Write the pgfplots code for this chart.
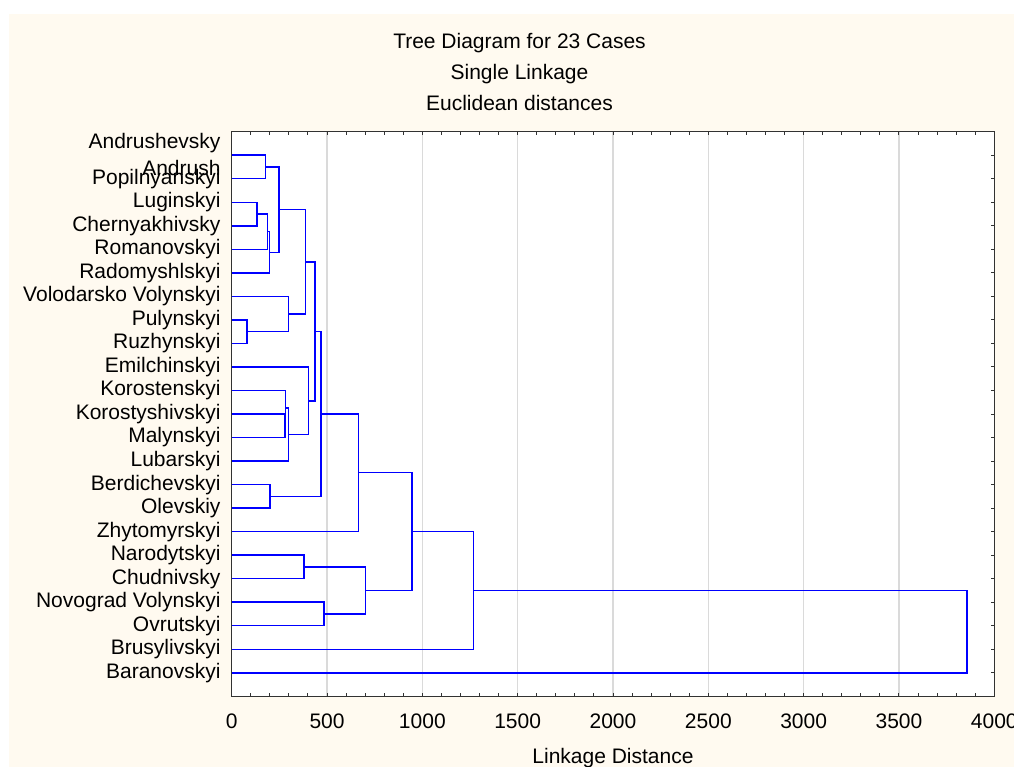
\documentclass[border=0pt]{standalone}
\usepackage{fontspec}
\setmainfont{Liberation Sans}
\usepackage{pgfplots}
\pgfplotsset{compat=1.18}
\definecolor{cream}{RGB}{255,250,240}
\definecolor{gridgray}{RGB}{218,218,218}
\definecolor{axisgray}{RGB}{50,50,50}

\pgfplotsset{dend/.style={color=blue, line width=1.5pt, mark=none}}

\begin{document}
\begin{tikzpicture}[x=1pt,y=1pt]
\path[use as bounding box, fill=white] (0,0) rectangle (1014,767);
\fill[cream] (9,0) rectangle (1014,753);

% title, three lines
\node[anchor=base, inner sep=0pt, font=\fontsize{21}{25}\selectfont] at (519.5,718.5) {Tree Diagram for 23 Cases};
\node[anchor=base, inner sep=0pt, font=\fontsize{21}{25}\selectfont] at (519.5,687.5) {Single Linkage};
\node[anchor=base, inner sep=0pt, font=\fontsize{21}{25}\selectfont] at (519.5,656.5) {Euclidean distances};

\begin{axis}[
  at={(231.7pt,70.7pt)}, anchor=south west,
  width=762.6pt, height=564.6pt, scale only axis,
  axis background/.style={fill=white},
  axis line style={axisgray, line width=1.4pt},
  xmin=0, xmax=4000, ymin=0, ymax=24,
  y dir=reverse,
  xtick={0,500,...,4000},
  minor x tick num=4,
  xmajorgrids,
  grid style={gridgray, line width=1.4pt},
  tick align=inside,
  tick style={axisgray, line width=1pt},
  major tick length=3.5pt, minor tick length=3pt,
  /pgf/number format/assume math mode=true,
  /pgf/number format/1000 sep={},
  tick label style={font=\fontsize{21}{25}\selectfont},
  xticklabel style={inner sep=0pt, yshift=-17pt},
  yticklabel style={inner sep=0pt, xshift=-11pt},
  ytick={1,...,23},
  yticklabels={{},Popilnyanskyi,Luginskyi,Chernyakhivsky,Romanovskyi,
    Radomyshlskyi,Volodarsko Volynskyi,Pulynskyi,Ruzhynskyi,Emilchinskyi,
    Korostenskyi,Korostyshivskyi,Malynskyi,Lubarskyi,Berdichevskyi,Olevskiy,
    Zhytomyrskyi,Narodytskyi,Chudnivsky,Novograd Volynskyi,Ovrutskyi,
    Brusylivskyi,Baranovskyi},
  extra y ticks={0.5,1.55},
  extra y tick labels={Andrushevsky,Andrush},
  extra y tick style={major tick length=0pt},
  xlabel={Linkage Distance},
  xlabel style={at={(axis description cs:0.5,0)}, anchor=north,
    inner sep=0pt, yshift=-52pt, font=\fontsize{21}{25}\selectfont},
]
% leaf pairs and merges: (child height, y) -- (merge height, y) ...
\addplot[dend] coordinates {(0,1) (178,1) (178,2) (0,2)};
\addplot[dend] coordinates {(0,3) (133,3) (133,4) (0,4)};
\addplot[dend] coordinates {(133,3.5) (187,3.5) (187,5) (0,5)};
\addplot[dend] coordinates {(187,4.25) (199,4.25) (199,6) (0,6)};
\addplot[dend] coordinates {(178,1.5) (247,1.5) (247,5.125) (199,5.125)};
\addplot[dend] coordinates {(0,8) (80,8) (80,9) (0,9)};
\addplot[dend] coordinates {(0,7) (299,7) (299,8.5) (80,8.5)};
\addplot[dend] coordinates {(247,3.3125) (386,3.3125) (386,7.75) (299,7.75)};
\addplot[dend] coordinates {(0,12) (280,12) (280,13) (0,13)};
\addplot[dend] coordinates {(0,11) (283,11) (283,12.5) (280,12.5)};
\addplot[dend] coordinates {(283,11.75) (299,11.75) (299,14) (0,14)};
\addplot[dend] coordinates {(0,10) (402,10) (402,12.875) (299,12.875)};
\addplot[dend] coordinates {(386,5.53125) (438,5.53125) (438,11.4375) (402,11.4375)};
\addplot[dend] coordinates {(0,15) (201,15) (201,16) (0,16)};
\addplot[dend] coordinates {(438,8.484) (468,8.484) (468,15.5) (201,15.5)};
\addplot[dend] coordinates {(468,11.992) (664,11.992) (664,17) (0,17)};
\addplot[dend] coordinates {(0,18) (379,18) (379,19) (0,19)};
\addplot[dend] coordinates {(0,20) (484,20) (484,21) (0,21)};
\addplot[dend] coordinates {(379,18.5) (703,18.5) (703,20.5) (484,20.5)};
\addplot[dend] coordinates {(664,14.496) (947,14.496) (947,19.5) (703,19.5)};
\addplot[dend] coordinates {(947,16.998) (1267,16.998) (1267,22) (0,22)};
\addplot[dend] coordinates {(1267,19.499) (3858,19.499) (3858,23) (0,23)};
\end{axis}
\end{tikzpicture}
\end{document}
